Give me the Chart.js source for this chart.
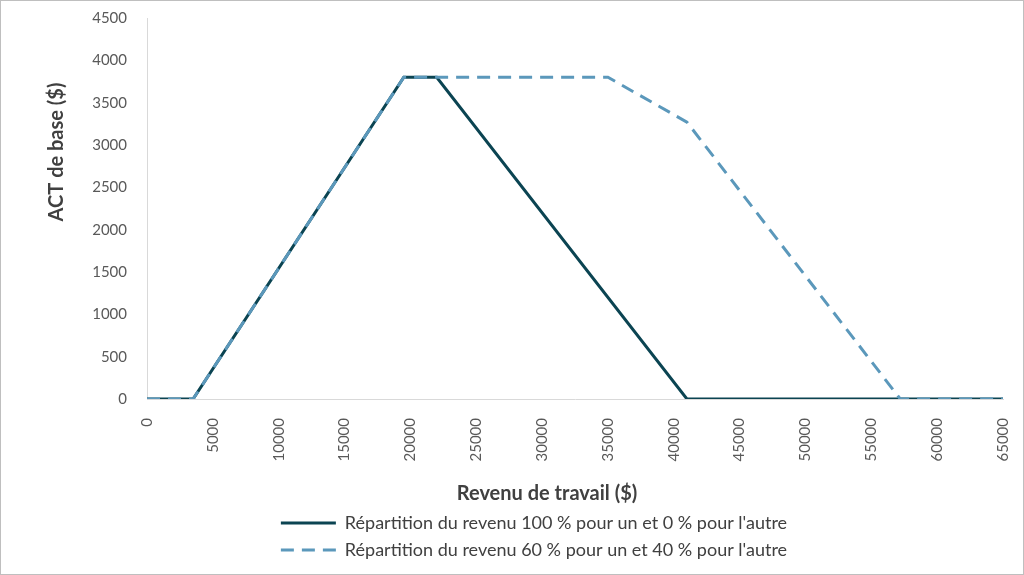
<!DOCTYPE html>
<html>
<head>
<meta charset="utf-8">
<script src="https://cdn.jsdelivr.net/npm/chart.js@4/dist/chart.umd.min.js"></script>
<style>
html, body { margin: 0; padding: 0; background: #fff; }
#wrap { position: relative; width: 1024px; height: 575px; box-sizing: border-box; border: 1px solid #bfbfbf; }
</style>
</head>
<body>
<div id="wrap"><canvas id="chart"></canvas></div>
<script>
// revenu de travail ($) -> ACT de base ($)
const revenu100 = [0, 3500, 19500, 22000, 41000, 65000];
const act100 = [0, 0, 3800, 3800, 0, 0];
const revenu60 = [0, 3500, 19500, 35000, 41000, 57200, 65000];
const act60 = [0, 0, 3800, 3800, 3270, 0, 0];
const seriesNames = [
  'Répartition du revenu 100 % pour un et 0 % pour l\'autre',
  'Répartition du revenu 60 % pour un et 40 % pour l\'autre'
];
const xTitle = 'Revenu de travail ($)';
const yTitle = 'ACT de base ($)';

const toPoints = (xs, ys) => xs.map((x, i) => ({ x: x, y: ys[i] }));

Chart.defaults.font.family = 'Lato, "Open Sans", sans-serif';
Chart.defaults.color = '#595959';

// the axis titles sit off-centre in the original, so draw them ourselves
const axisTitles = {
  id: 'axisTitles',
  afterDraw(chart) {
    const { ctx, chartArea } = chart;
    ctx.save();
    ctx.fillStyle = '#404040';
    ctx.font = 'bold 20px Lato, "Open Sans", sans-serif';
    ctx.textAlign = 'center';
    ctx.textBaseline = 'middle';
    ctx.fillText(xTitle, chartArea.left + 400, chartArea.bottom + 95);
    ctx.translate(chartArea.left - 90, chartArea.top + 134);
    ctx.rotate(-Math.PI / 2);
    ctx.fillText(yTitle, 0, 0);
    ctx.restore();
  }
};

const ctx = document.getElementById('chart').getContext('2d');
new Chart(ctx, {
  type: 'line',
  data: {
    datasets: [{
      label: seriesNames[0],
      data: toPoints(revenu100, act100),
      borderColor: '#0b4452',
      backgroundColor: '#0b4452',
      borderWidth: 3,
      pointRadius: 0,
      order: 1
    }, {
      label: seriesNames[1],
      data: toPoints(revenu60, act60),
      borderColor: '#5b98bb',
      backgroundColor: '#5b98bb',
      borderWidth: 3,
      borderDash: [13, 8],
      pointRadius: 0,
      order: 0
    }]
  },
  plugins: [axisTitles],
  options: {
    responsive: true,
    maintainAspectRatio: false,
    animation: false,
    layout: { padding: { left: 64, right: 20, top: 17, bottom: 5 } },
    plugins: {
      legend: {
        position: 'bottom',
        maxWidth: 600,
        labels: {
          usePointStyle: true,
          pointStyle: 'line',
          pointStyleWidth: 55,
          boxWidth: 55,
          boxHeight: 3,
          padding: 9,
          color: '#404040',
          font: { size: 18 },
          sort: (a, b) => a.datasetIndex - b.datasetIndex,
          generateLabels: (chart) => {
            const items = Chart.defaults.plugins.legend.labels.generateLabels(chart);
            items.forEach(item => {
              const ds = chart.data.datasets[item.datasetIndex];
              item.lineDash = ds.borderDash || [];
              item.lineWidth = 3;
              item.strokeStyle = ds.borderColor;
            });
            return items;
          }
        }
      },
      tooltip: { enabled: false }
    },
    scales: {
      x: {
        type: 'linear',
        min: 0,
        max: 65000,
        grid: { display: false },
        border: { color: '#d9d9d9', width: 1 },
        afterFit: (scale) => {
          scale.height = 106;
          scale.paddingLeft = 0;
          scale.paddingRight = 0;
        },
        ticks: {
          stepSize: 5000,
          autoSkip: false,
          minRotation: 90,
          maxRotation: 90,
          padding: 11,
          font: { size: 15 },
          callback: (v) => String(v)
        }
      },
      y: {
        min: 0,
        max: 4500,
        grid: { display: false },
        border: { color: '#d9d9d9', width: 1 },
        afterFit: (scale) => {
          scale.width = 82;
          scale.paddingTop = 0;
          scale.paddingBottom = 0;
        },
        ticks: {
          stepSize: 500,
          padding: 12,
          font: { size: 15 },
          callback: (v) => String(v)
        }
      }
    }
  }
});
</script>
</body>
</html>
